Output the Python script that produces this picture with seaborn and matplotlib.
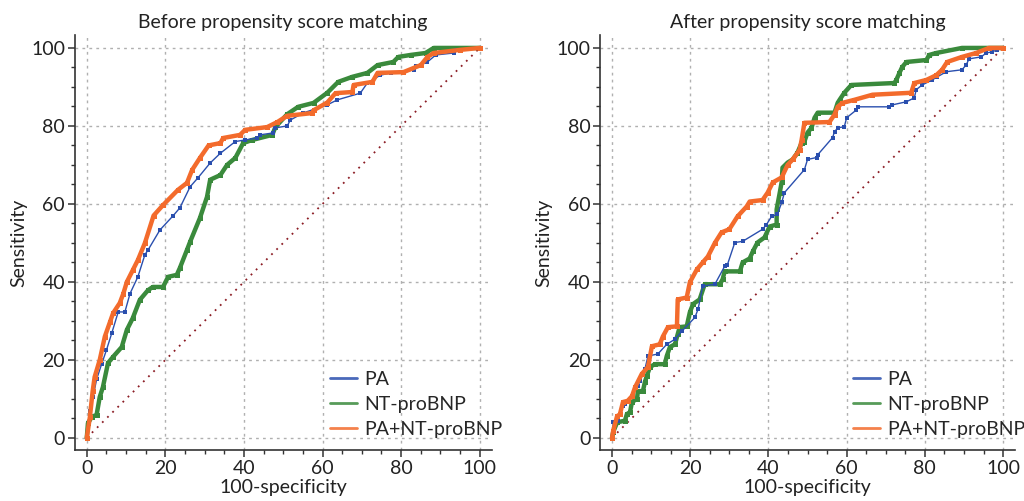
import matplotlib
matplotlib.use("Agg")
import matplotlib.pyplot as plt
import seaborn as sns
from matplotlib.lines import Line2D
from matplotlib.ticker import MultipleLocator

# datos (100-especificidad, sensibilidad)
before_pa_x = [0, 0.8, 1.6, 2.5, 3.8, 5, 6.4, 8, 9.7, 11, 13, 14.8, 15.6, 18.6, 22, 23.7, 26.3, 28.3, 31.4, 34,
               37.8, 40.3, 43.4, 44, 47.4, 48, 51, 51.8, 55, 61.2, 63.8, 69.6, 71.4, 74.7, 77.3, 80.4, 83.2, 83.7,
               86.7, 88.8, 93.4, 93.9, 100]
before_pa_y = [0, 7, 10.5, 15, 19, 22.5, 27, 32.3, 32.3, 37, 41.3, 47, 48.2, 53.3, 57, 59, 64.4, 66.7, 70.5, 73,
               76, 76.4, 76.9, 77.7, 78.2, 79.5, 80, 81.5, 83.3, 85.4, 86.7, 88.4, 91, 93, 93.6, 93.8, 94.4, 95.4,
               96.4, 98.2, 98.7, 99.5, 100]

before_nt_x = [0, 0.3, 1.3, 2.5, 3.3, 4.1, 5.4, 6.7, 8.9, 10.2, 11.7, 13.5, 15.6, 16.8, 19.4, 20.7, 22.9, 23.7,
               25.5, 26.3, 28.8, 30.6, 31.4, 34, 35.7, 37.8, 39.8, 42.1, 47.2, 48, 51, 53.8, 57.7, 61.2, 64, 67.6,
               71.4, 74, 78, 79.3, 82.4, 86.2, 88.3, 100]
before_nt_y = [0, 3.8, 5.4, 5.9, 10.5, 13, 19.2, 20.8, 23.3, 27.7, 30.7, 35.4, 37.9, 38.7, 38.7, 41.3, 41.8, 43.6,
               48.2, 50.3, 56.4, 61.8, 66.2, 67.4, 70, 71.8, 75.6, 76.4, 77.7, 79.7, 83, 84.9, 85.9, 88.5, 91.3, 92.6,
               93.6, 95.6, 96.4, 97.7, 98.2, 98.7, 100, 100]

before_comb_x = [0, 0.8, 1.5, 2, 3.3, 4.6, 5.9, 6.7, 8.4, 9.3, 10.2, 11.7, 13, 14.8, 17, 19.4, 23.2, 25.5, 26.8,
                 28.8, 31, 34, 34.7, 39, 40.3, 45.9, 48.5, 51, 57.4, 57.7, 61.2, 63.3, 67.6, 67.9, 72.7, 74, 80.6,
                 85, 86.7, 88.3, 95, 100]
before_comb_y = [0, 5.4, 12, 15.6, 20, 26, 29.7, 32, 34.6, 37, 40, 43, 45.6, 50, 57, 59.7, 63.6, 65.4, 68.7,
                 71.8, 75, 75.6, 76.9, 77.7, 79, 79.7, 81, 82.6, 83.3, 84, 86, 88.4, 88.7, 90.5, 91.3, 93.6, 93.8,
                 95.6, 97.7, 98.7, 99.5, 100]

after_pa_x = [0, 0.3, 1.5, 2.8, 3.3, 5.1, 6.6, 7.1, 8.4, 9.2, 11.7, 14, 16.1, 17.9, 21.2, 22, 23.2, 26.3, 28.8,
              29.5, 31.4, 33.4, 38.5, 39.5, 40.8, 42.3, 43.4, 44.1, 49.2, 50, 52.3, 52.6, 56.4, 56.9, 57.7, 59.4,
              60, 62.5, 62.8, 70.9, 71.7, 75.3, 77.3, 77.8, 79.3, 81.9, 83.2, 85.5, 89.5, 90.6, 91.3, 94.4, 95.7,
              97.2, 98.5, 100]
after_pa_y = [0, 4, 4.4, 8.2, 8.7, 10.8, 13.3, 14.5, 17.6, 21, 21.5, 24, 25.3, 27.4, 30.9, 33, 38.9, 39.4, 44,
              44.4, 50.1, 50.4, 53.5, 54.7, 56.8, 57.3, 60.4, 62.9, 68.8, 71.4, 71.9, 72.6, 77, 78.5, 79.5, 79.8,
              82.1, 84.1, 84.9, 84.9, 85.4, 86.2, 87.2, 89.3, 90.5, 91.8, 92.6, 93.9, 94.4, 95.7, 97.2, 97.7, 98.7,
              99, 99.5, 100]

after_nt_x = [0, 0.3, 1.3, 3.3, 3.8, 4.6, 5.1, 6.4, 6.6, 7.9, 8.4, 8.9, 9.7, 11, 13.5, 14, 14.8, 16.1, 16.8, 17.3,
              19.1, 19.9, 20.7, 22.4, 23.7, 27.6, 28.3, 28.8, 32.7, 33.4, 35.2, 36, 37.2, 39, 40.3, 42.1, 42.1,
              42.9, 43.4, 43.6, 44.9, 46.2, 47.4, 48.5, 49.2, 50, 51, 51.8, 52.6, 56.9, 57.7, 58.2, 59.4, 61.2,
              72.2, 72.7, 73.5, 74.2, 75.3, 80.4, 81.1, 82.9, 89.5, 100]
after_nt_y = [0, 1.5, 4, 4.4, 6.1, 6.6, 9.2, 10, 12, 12, 14.3, 15.9, 18.2, 18.9, 18.9, 21, 23.3, 24, 26.6, 28.4,
              28.6, 32.2, 34.3, 35.5, 39.4, 39.4, 40.7, 42.7, 42.7, 45, 46, 47.8, 50.1, 51.4, 54.2, 54.7, 58.6,
              62.9, 65.7, 69.3, 70.6, 71.4, 73.1, 75.7, 76, 78.3, 79.5, 82.1, 83.4, 83.4, 85.9, 86.7, 88.5, 90.5,
              91, 91.8, 93.6, 95.1, 96.4, 96.9, 98.2, 98.7, 100, 100]

after_comb_x = [0, 0.3, 1.3, 2, 2.8, 4, 5.1, 5.9, 7.6, 9.2, 10.2, 12.2, 13, 14.3, 16.6, 16.8, 19.1, 19.9, 21.7,
                23.2, 24.5, 26.3, 28, 30, 32.1, 34.4, 35.2, 38.5, 39.8, 41.1, 43.4, 44.9, 46.2, 48, 48.5, 49.2,
                55.6, 56.9, 57.7, 58.9, 62, 66.6, 76.5, 77.3, 80.4, 82.9, 84.4, 85.7, 89.5, 93.1, 96.4, 100]
after_comb_y = [0, 1.8, 5.6, 6, 9.2, 9.5, 10.7, 13, 16.4, 18.2, 23.5, 24, 26, 28.4, 28.6, 35.5, 36, 39.9, 43.2,
                45, 46.5, 50, 52.7, 53.5, 56.8, 59.3, 60.6, 61, 62.9, 65.5, 66.8, 70, 71.4, 73.9, 76.5, 80.8,
                81, 82.9, 84.9, 85.9, 86.7, 88, 88.5, 91, 91.8, 93, 94.4, 96.4, 97.7, 98.7, 100, 100]

series_names = ["PA", "NT-proBNP", "PA+NT-proBNP"]
titles = ["Before propensity score matching", "After propensity score matching"]
ref_line = [0, 100]

sns.set_style("ticks")
plt.rcParams["font.family"] = ["Lato", "DejaVu Sans"]

colores = ["#2a4fae", "#3a8a3c", "#f36b2c"]
anchos = [1.0, 3.2, 3.2]
marcas = [3.0, 3.6, 3.6]
fs = 14

fig = plt.figure(figsize=(10.24, 5.01), dpi=100)
ax1 = fig.add_axes([0.073, 0.102, 0.407, 0.828])
ax2 = fig.add_axes([0.586, 0.102, 0.405, 0.828])

paneles = [
    (ax1, [(before_pa_x, before_pa_y), (before_nt_x, before_nt_y), (before_comb_x, before_comb_y)]),
    (ax2, [(after_pa_x, after_pa_y), (after_nt_x, after_nt_y), (after_comb_x, after_comb_y)]),
]

for k, (ax, curvas) in enumerate(paneles):
    # linea de referencia
    sns.lineplot(x=ref_line, y=ref_line, ax=ax, color="#8b1c24", linestyle=(0, (1, 3)), linewidth=1.3)
    # orden de dibujo: verde, azul, naranja
    for i in [1, 0, 2]:
        cx, cy = curvas[i]
        sns.lineplot(x=cx, y=cy, ax=ax, estimator=None, sort=False, color=colores[i], linewidth=anchos[i],
                     marker="s", markersize=marcas[i], markeredgewidth=0)

    ax.set_xlim(-3.06, 103)
    ax.set_ylim(-3.08, 103.3)
    ax.xaxis.set_major_locator(MultipleLocator(20))
    ax.yaxis.set_major_locator(MultipleLocator(20))
    ax.xaxis.set_minor_locator(MultipleLocator(5))
    ax.yaxis.set_minor_locator(MultipleLocator(5))
    ax.grid(True, which="major", color="#b0b0b0", linestyle=(0, (2, 3)), linewidth=1.0)
    ax.set_axisbelow(True)
    sns.despine(ax=ax)
    for s in ["left", "bottom"]:
        ax.spines[s].set_color("#333333")
        ax.spines[s].set_linewidth(1.2)
    ax.tick_params(which="major", length=5, width=1.1, color="#333333", labelsize=fs, labelcolor="#222222",
                   pad=2)
    ax.tick_params(which="minor", length=3, width=1.0, color="#333333")
    ax.set_title(titles[k], fontsize=fs, color="#222222", pad=5)
    ax.set_xlabel("100-specificity", fontsize=fs, color="#222222", labelpad=2)
    ax.set_ylabel("Sensitivity", fontsize=fs, color="#222222", labelpad=3)

    handles = [Line2D([0], [0], color=colores[i], linewidth=2.0, alpha=0.85) for i in range(3)]
    ax.legend(handles, series_names, loc="lower right", frameon=False, fontsize=fs,
              handlelength=1.4, handletextpad=0.4, labelspacing=0.42, borderpad=0.1,
              bbox_to_anchor=(1.055, 0.0))

fig.savefig("out.png", dpi=100)
